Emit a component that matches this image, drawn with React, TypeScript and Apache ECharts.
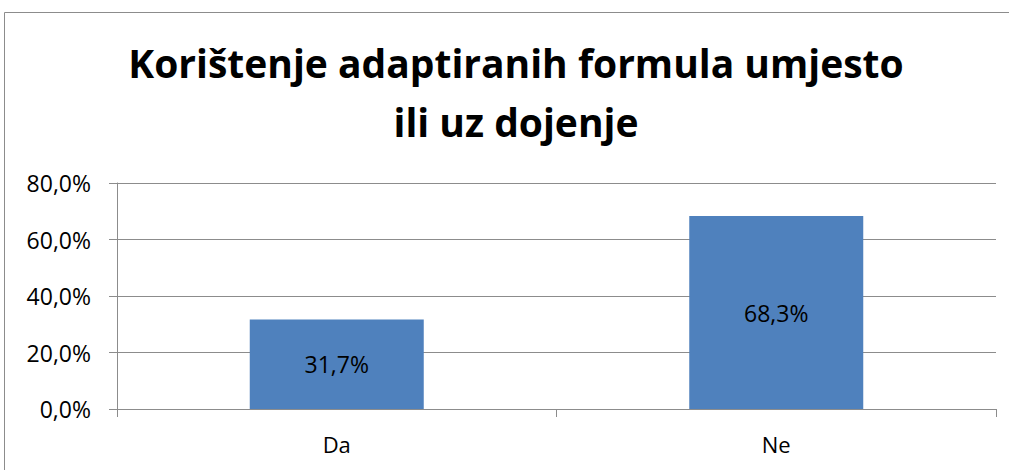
import React, { useEffect, useRef } from "react";
import * as echarts from "echarts";

const titleLines = ["Korištenje adaptiranih formula umjesto", "ili uz dojenje"];
const categories = ["Da", "Ne"];
const values = [31.7, 68.3];
const yMin = 0;
const yMax = 80;
const yInterval = 20;

const fmt = (v: number) => v.toFixed(1).replace(".", ",") + "%";

export default function App() {
  const ref = useRef<HTMLDivElement>(null);
  useEffect(() => {
    document.body.style.margin = "0";
    document.body.style.overflow = "hidden";
    const chart = echarts.init(ref.current!, null, { renderer: "svg" });
    const font = "'Open Sans', 'Noto Sans', sans-serif";
    chart.setOption({
      animation: false,
      backgroundColor: "#ffffff",
      textStyle: { fontFamily: font },
      graphic: [
        {
          type: "line",
          shape: { x1: 4.5, y1: 470, x2: 4.5, y2: 12.5 },
          style: { stroke: "#8c8c8c", lineWidth: 1 },
          silent: true,
        },
        {
          type: "line",
          shape: { x1: 4.5, y1: 12.5, x2: 1009, y2: 12.5 },
          style: { stroke: "#8c8c8c", lineWidth: 1 },
          silent: true,
        },
        ...titleLines.map((t, i) => ({
          type: "text",
          x: 516,
          y: 62 + i * 59,
          silent: true,
          style: {
            text: t,
            align: "center",
            verticalAlign: "middle",
            fontFamily: font,
            fontWeight: "bold",
            fontSize: 39,
            fill: "#000000",
          },
        })),
      ],
      grid: { left: 117, right: 13, top: 183, bottom: 61, containLabel: false },
      xAxis: {
        type: "category",
        data: categories,
        boundaryGap: true,
        axisLine: { show: true, lineStyle: { color: "#8c8c8c", width: 1 } },
        axisTick: { show: true, length: 8, alignWithLabel: false, lineStyle: { color: "#8c8c8c" } },
        axisLabel: { color: "#000000", fontSize: 22, margin: 24, fontFamily: font },
      },
      yAxis: {
        type: "value",
        min: yMin,
        max: yMax,
        interval: yInterval,
        axisLine: { show: true, lineStyle: { color: "#8c8c8c", width: 1 } },
        axisTick: { show: true, length: 8, lineStyle: { color: "#8c8c8c" } },
        axisLabel: {
          color: "#000000",
          fontSize: 23,
          margin: 26,
          fontFamily: font,
          formatter: (v: number) => fmt(v),
        },
        splitLine: { show: true, lineStyle: { color: "#8c8c8c", width: 1 } },
      },
      series: [
        {
          type: "bar",
          data: values,
          barWidth: 174,
          itemStyle: { color: "#4F81BD" },
          label: {
            show: true,
            position: "inside",
            color: "#000000",
            fontSize: 23,
            fontFamily: font,
            formatter: (p: any) => fmt(p.value),
          },
        },
      ],
    });
    return () => chart.dispose();
  }, []);
  return <div ref={ref} style={{ width: 1009, height: 470 }} />;
}
